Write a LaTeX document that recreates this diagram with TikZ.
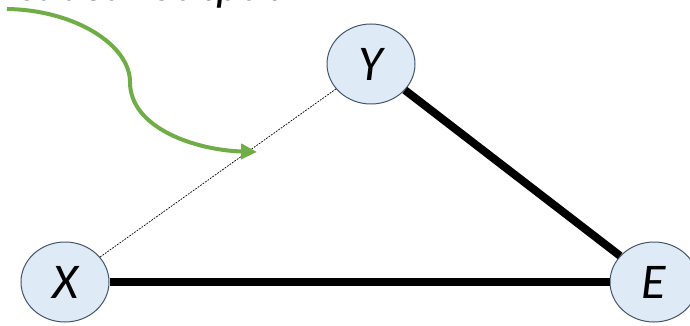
\documentclass[tikz,border=0pt]{standalone}
\usepackage{fontspec}
\setmainfont{Carlito}
\usetikzlibrary{arrows.meta,shapes.geometric}
\definecolor{nodefill}{HTML}{DEEBF7}
\definecolor{nodeline}{HTML}{44546A}
\definecolor{greenarrow}{HTML}{70AD47}
\tikzset{
  varnode/.style={ellipse, draw=nodeline, line width=1pt, fill=nodefill,
    minimum width=88pt, minimum height=80pt, inner sep=0pt,
    font=\fontsize{50}{50}\selectfont\itshape},
  thickedge/.style={line width=8pt, black},
  thinedge/.style={line width=0.7pt, black, dash pattern=on 1.8pt off 1.2pt},
  greencurve/.style={line width=4pt, greenarrow, -{Triangle[length=16pt,width=15pt]}},
  toptext/.style={font=\fontsize{48}{48}\selectfont\itshape, inner sep=0pt, anchor=base west}
}
\begin{document}
\begin{tikzpicture}[x=1pt,y=-1pt]
\useasboundingbox (0,0) rectangle (690,326);
\node[toptext] (title) at (17,0.5) {causal output};
\node[varnode] (Y) at (371,64) {Y};
\node[varnode] (X) at (65,282) {X};
\node[varnode] (E) at (654,282) {E};
\draw[thinedge] (X) -- (Y);
\draw[thickedge] (X) -- (E);
\draw[thickedge] (Y) -- (E);
\coordinate (gs) at (7,9);
\coordinate (gm) at (130,82);
\coordinate (ge) at (257,152);
\draw[greencurve] (gs) .. controls (75,10) and (130,45) .. (gm)
  .. controls (130,128) and (195,150) .. (ge);
\end{tikzpicture}
\end{document}
